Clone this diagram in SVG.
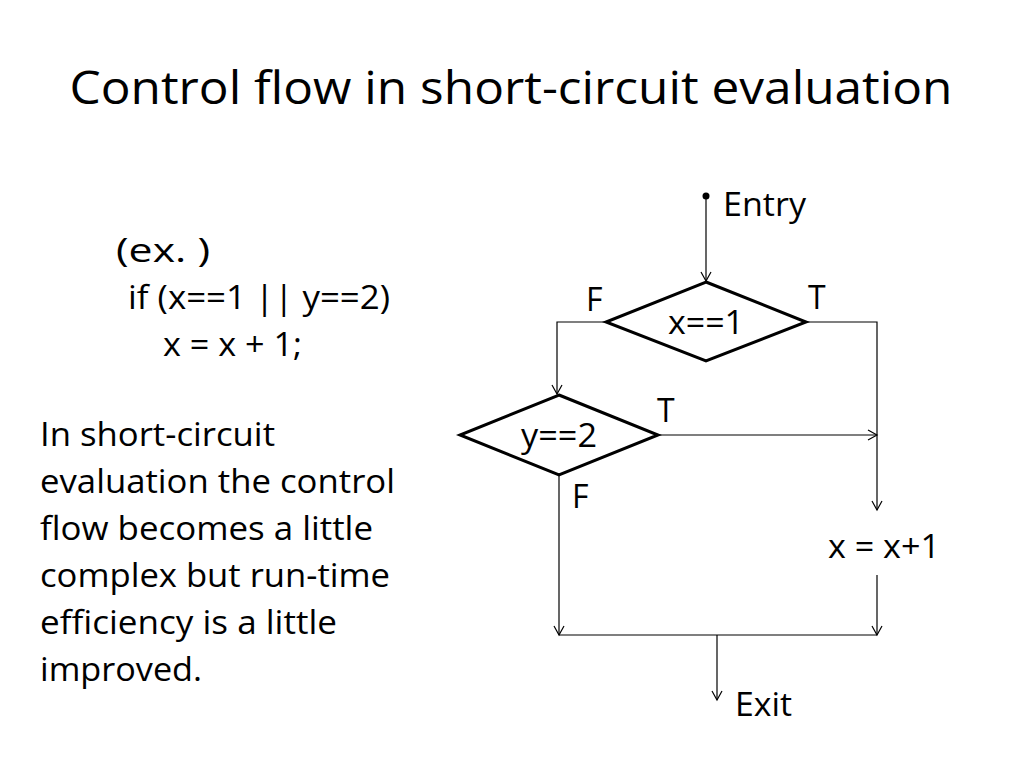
<svg xmlns="http://www.w3.org/2000/svg" width="1024" height="768" viewBox="0 0 1024 768">
<style>
text{font-family:"Open Sans","Liberation Sans",sans-serif;fill:#000}
.t{font-size:32px}
.d{fill:#fff;stroke:#000;stroke-width:3}
.c{fill:none;stroke:#000;stroke-width:1.2}
</style>
<defs><marker id="a" markerWidth="12" markerHeight="12" refX="10" refY="6" orient="auto" markerUnits="userSpaceOnUse"><path d="M1,1 L10,6 L1,11" fill="none" stroke="#000" stroke-width="1.2"/></marker></defs>
<rect width="1024" height="768" fill="#fff"/>
<text x="511" y="104" text-anchor="middle" font-size="46" textLength="883" lengthAdjust="spacingAndGlyphs">Control flow in short-circuit evaluation</text>
<g id="code">
<text x="116" y="262" class="t" textLength="94" lengthAdjust="spacingAndGlyphs">(ex. )</text>
<text x="128" y="309" class="t" textLength="262" lengthAdjust="spacingAndGlyphs">if (x==1 || y==2)</text>
<text x="163" y="356" class="t" textLength="139" lengthAdjust="spacingAndGlyphs">x = x + 1;</text>
</g>
<g id="note">
<text x="40" y="446" class="t" textLength="235" lengthAdjust="spacingAndGlyphs">In short-circuit</text>
<text x="40" y="493" class="t" textLength="355" lengthAdjust="spacingAndGlyphs">evaluation the control</text>
<text x="40" y="540" class="t" textLength="333" lengthAdjust="spacingAndGlyphs">flow becomes a little</text>
<text x="40" y="587" class="t" textLength="350" lengthAdjust="spacingAndGlyphs">complex but run-time</text>
<text x="40" y="634" class="t" textLength="297" lengthAdjust="spacingAndGlyphs">efficiency is a little</text>
<text x="40" y="681" class="t" textLength="162" lengthAdjust="spacingAndGlyphs">improved.</text>
</g>
<g id="entry"><circle cx="706" cy="196" r="3.5"/><text x="723" y="216" class="t" textLength="83" lengthAdjust="spacingAndGlyphs">Entry</text></g>
<g id="c1"><polygon class="d" points="706,282 806,322 706,361 606,322"/><text x="668" y="334" class="t" textLength="76" lengthAdjust="spacingAndGlyphs">x==1</text></g>
<g id="c2"><polygon class="d" points="559,395 658,435 559,475 460,435"/><text x="521" y="447" class="t" textLength="76" lengthAdjust="spacingAndGlyphs">y==2</text></g>
<g id="assign"><text x="828" y="558" class="t" textLength="112" lengthAdjust="spacingAndGlyphs">x = x+1</text></g>
<g id="exit"><text x="735" y="716" class="t" textLength="57" lengthAdjust="spacingAndGlyphs">Exit</text></g>
<g id="labels">
<text x="586" y="311" class="t">F</text>
<text x="808" y="309" class="t">T</text>
<text x="657" y="422" class="t">T</text>
<text x="572" y="508" class="t">F</text>
</g>
<g id="connectors">
<path class="c" d="M706,196 V281" marker-end="url(#a)"/>
<path class="c" d="M606,322 H557 V394" marker-end="url(#a)"/>
<path class="c" d="M806,322 H877 V510" marker-end="url(#a)"/>
<path class="c" d="M658,435 H877" marker-end="url(#a)"/>
<path class="c" d="M559,475 V635" marker-end="url(#a)"/>
<path class="c" d="M877,575 V635" marker-end="url(#a)"/>
<path class="c" d="M559,635 H877"/>
<path class="c" d="M717,635 V700" marker-end="url(#a)"/>
</g>
</svg>
